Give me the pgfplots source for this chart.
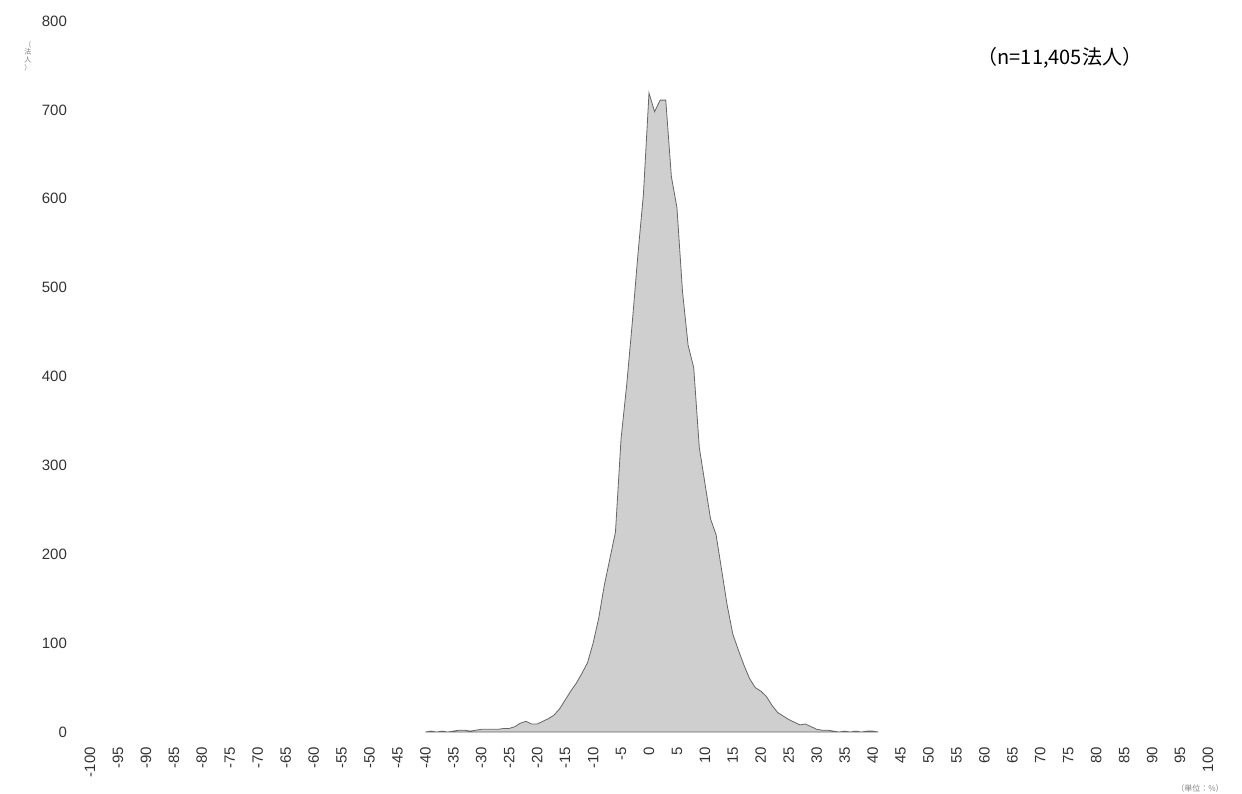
\documentclass[border=0pt]{standalone}
\usepackage{pgfplots}
\pgfplotsset{compat=1.18}
\usepackage{fontspec}
\setmainfont{Liberation Sans}
\newfontfamily\cjk{Noto Sans CJK JP}
\begin{document}
\begin{tikzpicture}
\useasboundingbox (-45pt,-30.5pt) rectangle (576pt,366pt);
\begin{axis}[at={(0,0)}, anchor=south west, scale only axis,
  width=559pt, height=355.5pt,
  xmin=-100, xmax=100, ymin=0, ymax=800,
  axis line style={draw=none}, major tick length=0pt,
  xtick={-100,-95,...,100}, ytick={0,100,...,800},
  /pgf/number format/assume math mode=true,
  xticklabel style={rotate=90, anchor=east, xshift=-4pt, font=\fontsize{7.5}{9}\selectfont, text=black!80},
  yticklabel style={xshift=-8pt, font=\fontsize{7.5}{9}\selectfont, text=black!80},
  clip=false]
\addplot[fill=black!19, draw=black!60, line width=0.4pt] coordinates {
(-40,0) (-39,1) (-38,0) (-37,1) (-36,0) (-35,1) (-34,2) (-33,2) (-32,1) (-31,2)
(-30,3) (-29,3) (-28,3) (-27,3) (-26,4) (-25,4) (-24,6) (-23,10) (-22,12) (-21,9)
(-20,9) (-19,12) (-18,15) (-17,19) (-16,26) (-15,36) (-14,46) (-13,55) (-12,66) (-11,78)
(-10,100) (-9,128) (-8,165) (-7,195) (-6,225) (-5,330) (-4,390) (-3,460) (-2,536) (-1,605)
(0,719) (1,698) (2,711) (3,711) (4,625) (5,590) (6,495) (7,435) (8,410) (9,320)
(10,280) (11,240) (12,222) (13,182) (14,142) (15,110) (16,92) (17,75) (18,60) (19,50)
(20,46) (21,40) (22,30) (23,22) (24,18) (25,14) (26,11) (27,8) (28,9) (29,6)
(30,3) (31,2) (32,2) (33,1) (34,0) (35,1) (36,0) (37,1) (38,0) (39,1) (40,1) (41,0)
} \closedcycle;
\node[font=\cjk\fontsize{10}{12}\selectfont] at (axis cs:73.5,758) {（n=11,405法人）};
\end{axis}
\node[font=\cjk\fontsize{3.5}{3.8}\selectfont, text=gray, align=center] at (-31pt,338pt) {（\\法\\人\\）};
\node[font=\cjk\fontsize{4}{5}\selectfont, text=gray] at (555pt,-28pt) {（単位：\%）};
\end{tikzpicture}
\end{document}
